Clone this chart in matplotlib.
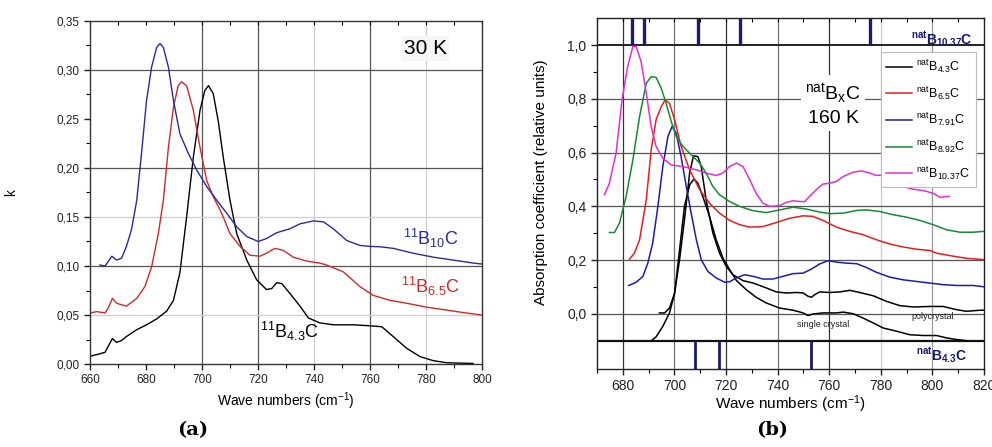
import matplotlib
matplotlib.use("Agg")
import matplotlib.pyplot as plt
from matplotlib.ticker import MultipleLocator, FuncFormatter, FixedLocator

plt.rcParams['font.family'] = ['Liberation Sans', 'DejaVu Sans']
plt.rcParams['mathtext.fontset'] = 'custom'
plt.rcParams['mathtext.rm'] = 'Liberation Sans'
plt.rcParams['mathtext.it'] = 'Liberation Sans:italic'
plt.rcParams['mathtext.bf'] = 'Liberation Sans:bold'

# ---------------- Panel (a) data: k at 30 K ----------------
a_b43_x = [660, 663.6, 665.4, 666.5, 668, 669.5, 671.3, 673, 676.7, 680.2, 683.8, 687.4, 689.8, 692.1,
           694.5, 696.9, 699.3, 701, 702.3, 704, 705.8, 707.6, 710, 712.4, 716, 719.5, 723, 724.9,
           726.7, 728.5, 731.4, 735, 738, 742, 746.9, 754, 760, 764.2, 768.3, 773.1, 777.9, 782.6,
           787.4, 794.5, 796.8]
a_b43_y = [0.0078, 0.0105, 0.012, 0.018, 0.026, 0.022, 0.024, 0.028, 0.035, 0.040, 0.046, 0.054, 0.065, 0.093,
           0.150, 0.211, 0.259, 0.279, 0.284, 0.276, 0.248, 0.211, 0.167, 0.133, 0.106, 0.086, 0.076, 0.077,
           0.083, 0.082, 0.072, 0.059, 0.047, 0.042, 0.040, 0.040, 0.039, 0.038, 0.028, 0.016, 0.0075, 0.0034,
           0.0013, 0.0007, 0.0006]

a_b65_x = [660, 662.4, 665.4, 666.5, 668, 669.5, 673, 676.7, 679.6, 682, 684.4, 686.2, 688, 689.8, 691.5,
           692.7, 694.5, 696.9, 699.3, 701.7, 704, 707, 710, 713.6, 717.1, 720.7, 723, 726, 729, 732.6,
           737.4, 742, 744.5, 750.5, 756.4, 761.2, 767.1, 773.1, 780.2, 787.4, 794.5, 799.9]
a_b65_y = [0.052, 0.0535, 0.052, 0.057, 0.067, 0.062, 0.059, 0.067, 0.079, 0.099, 0.133, 0.167, 0.221, 0.262,
           0.284, 0.288, 0.284, 0.259, 0.221, 0.187, 0.171, 0.154, 0.133, 0.120, 0.111, 0.110, 0.113, 0.118,
           0.116, 0.109, 0.105, 0.103, 0.101, 0.094, 0.079, 0.070, 0.065, 0.062, 0.058, 0.055, 0.052, 0.050]

a_b10_x = [663.5, 665.4, 667.8, 669.5, 671.3, 673, 674.8, 676.7, 678.5, 680.2, 682, 683.8, 685, 686.2,
           688, 689.8, 692.1, 695.1, 698.1, 701.7, 705.3, 708.8, 712.4, 716, 720.1, 723, 726.7, 731.4,
           735, 739.8, 743.4, 746.9, 751.7, 756.4, 760, 763.6, 768.3, 775.5, 782.6, 789.8, 796.9, 799.9]
a_b10_y = [0.101, 0.100, 0.110, 0.106, 0.108, 0.120, 0.137, 0.167, 0.218, 0.269, 0.303, 0.323, 0.327, 0.323,
           0.303, 0.269, 0.235, 0.215, 0.198, 0.181, 0.167, 0.154, 0.140, 0.130, 0.125, 0.128, 0.134, 0.138,
           0.143, 0.146, 0.145, 0.138, 0.126, 0.121, 0.120, 0.1196, 0.118, 0.113, 0.109, 0.106, 0.103, 0.102]

# ---------------- Panel (b) data: natBxC at 160 K ----------------
b_b1037_x = [672.9, 674.8, 677.4, 679.7, 681.9, 683.9, 685.2, 687.1, 689.1, 691, 692.9, 695.5, 698.8, 703.3,
             708.5, 712.3, 716.2, 718.8, 721.4, 724, 726.6, 729.2, 731.7, 734.3, 736.9, 740.8, 743.4, 746,
             748.6, 750.5, 752.4, 755, 757.6, 760.2, 762.8, 765.4, 769.3, 772.5, 775.7, 778.3, 780.9, 784.8,
             788.7, 792.5, 796.4, 800.3, 802.9, 805.5, 806.5]
b_b1037_y = [0.443, 0.486, 0.598, 0.796, 0.920, 0.994, 0.994, 0.938, 0.821, 0.697, 0.623, 0.579, 0.554, 0.548,
             0.536, 0.524, 0.515, 0.524, 0.548, 0.561, 0.548, 0.499, 0.449, 0.412, 0.400, 0.403, 0.415, 0.421,
             0.418, 0.418, 0.437, 0.462, 0.483, 0.486, 0.493, 0.511, 0.527, 0.532, 0.524, 0.515, 0.517, 0.499,
             0.474, 0.464, 0.459, 0.449, 0.434, 0.437, 0.437]

b_b892_x = [674.8, 676.8, 678.7, 681.3, 683.9, 686.5, 689.1, 691, 692.9, 694.9, 696.8, 698.8, 700.7, 703.3,
            705.9, 709.8, 712.3, 714.9, 717.5, 721.4, 725.3, 730.5, 735.6, 740.8, 746, 751.2, 756.3, 760.2,
            765.4, 770.6, 774.4, 779.6, 784.8, 790, 795.1, 800.3, 805.5, 810.7, 815.8, 819.7]
b_b892_y = [0.303, 0.303, 0.338, 0.437, 0.573, 0.734, 0.858, 0.882, 0.880, 0.839, 0.783, 0.715, 0.660, 0.623,
            0.598, 0.561, 0.524, 0.474, 0.443, 0.418, 0.400, 0.384, 0.377, 0.387, 0.397, 0.390, 0.379, 0.373,
            0.375, 0.385, 0.387, 0.381, 0.369, 0.360, 0.348, 0.332, 0.313, 0.304, 0.304, 0.307]

b_b65_x = [682.6, 684.5, 686.5, 689.1, 691, 692.9, 694.9, 696.4, 698.1, 700.1, 702.6, 705.9, 709.8, 713.6,
           717.5, 721.4, 725.3, 729.2, 734.3, 739.5, 744.7, 749.9, 753.7, 757.6, 762.8, 768, 773.1, 778.3,
           783.5, 788.7, 793.8, 799, 801.6, 806.8, 813.2, 820]
b_b65_y = [0.204, 0.226, 0.276, 0.424, 0.610, 0.722, 0.771, 0.796, 0.783, 0.722, 0.623, 0.536, 0.462, 0.412,
           0.375, 0.348, 0.332, 0.323, 0.325, 0.340, 0.356, 0.365, 0.363, 0.348, 0.323, 0.307, 0.295, 0.276,
           0.260, 0.249, 0.241, 0.236, 0.226, 0.217, 0.207, 0.202]

b_b791_x = [682.3, 685.2, 687.8, 689.7, 691.6, 693.6, 695.5, 697.5, 699.1, 700.7, 702.6, 704.6, 706.5, 708.5,
            710.4, 713, 716.2, 719.5, 721.4, 724, 727.2, 730.5, 734.3, 738.2, 742.1, 746, 749.9, 753.1,
            756.3, 759.6, 762.8, 766.7, 770.6, 774.4, 778.3, 783.5, 788.7, 793.8, 799, 804.2, 809.4, 815.8, 820]
b_b791_y = [0.106, 0.118, 0.140, 0.189, 0.264, 0.400, 0.548, 0.660, 0.697, 0.672, 0.585, 0.474, 0.375, 0.276,
            0.202, 0.158, 0.134, 0.118, 0.120, 0.134, 0.146, 0.140, 0.130, 0.130, 0.140, 0.150, 0.152, 0.167,
            0.186, 0.198, 0.193, 0.189, 0.187, 0.173, 0.155, 0.137, 0.127, 0.121, 0.115, 0.109, 0.106, 0.106, 0.101]

b_b43p_x = [694.2, 696.2, 698.1, 700.1, 702, 703.9, 705.9, 707.4, 709.1, 710.4, 712.3, 714.9, 717.5, 720.1,
            722.7, 726.6, 730.5, 735.6, 739.5, 743.4, 747.3, 749.9, 751.8, 753.1, 754.4, 756.3, 760.2, 764.1,
            768, 771.8, 777, 782.2, 787.4, 792.5, 799, 804.2, 809.4, 813.2, 818.4, 820]
b_b43p_y = [0.004, 0.004, 0.022, 0.078, 0.202, 0.350, 0.524, 0.588, 0.585, 0.548, 0.424, 0.301, 0.226, 0.177,
            0.146, 0.124, 0.115, 0.097, 0.082, 0.078, 0.080, 0.078, 0.066, 0.062, 0.072, 0.082, 0.080, 0.082,
            0.088, 0.080, 0.068, 0.047, 0.031, 0.026, 0.028, 0.028, 0.016, 0.010, 0.014, 0.014]

b_b43s_x = [691, 692.9, 695.5, 698.1, 700.1, 702, 703.9, 705.9, 707.6, 709.1, 711, 713.6, 716.2, 718.8,
            721.4, 724, 727.9, 731.7, 735.6, 740.8, 746, 749.9, 751.8, 753.7, 757.6, 762.8, 765.4, 769.3,
            773.1, 777, 780.9, 786.1, 791.2, 796.4, 801.6, 805.5, 809.4, 813.2]
b_b43s_y = [-0.100, -0.085, -0.046, 0.004, 0.078, 0.239, 0.400, 0.480, 0.502, 0.486, 0.437, 0.363, 0.276, 0.208,
            0.165, 0.125, 0.090, 0.062, 0.041, 0.022, 0.014, 0.004, -0.006, 0.000, 0.004, 0.004, 0.007, 0.001,
            -0.015, -0.033, -0.052, -0.064, -0.077, -0.080, -0.080, -0.089, -0.095, -0.099]

# calculated mode positions (cm^-1)
b_modes_b1037 = [683.6, 688.2, 709.0, 725.4, 776.0]
b_modes_b43 = [707.8, 717.2, 753.0]

# ---------------- Figure ----------------
fig = plt.figure(figsize=(9.92, 4.47), dpi=100)
fig.patch.set_facecolor('white')

comma2 = FuncFormatter(lambda v, p: f"{v:.2f}".replace('.', ','))
comma1 = FuncFormatter(lambda v, p: f"{v:.1f}".replace('.', ','))
comma0 = FuncFormatter(lambda v, p: f"{v:.0f}")

DARK = '#555555'
LIGHT = '#cfcfcf'

# ---- Panel (a) ----
axa = fig.add_axes([90/992, 1-364/447, 392/992, 343/447])
axa.set_xlim(660, 800)
axa.set_ylim(0, 0.35)
for xv, c in zip([700, 720, 740, 760, 780], [DARK, DARK, LIGHT, DARK, LIGHT]):
    axa.axvline(xv, color=c, lw=0.9, zorder=0)
for yv, c in zip([0.05, 0.10, 0.15, 0.20, 0.30], [LIGHT, DARK, LIGHT, DARK, DARK]):
    axa.axhline(yv, color=c, lw=0.9, zorder=0)

axa.plot(a_b43_x, a_b43_y, color='black', lw=1.0)
axa.plot(a_b65_x, a_b65_y, color='#cc2a2a', lw=1.0)
axa.plot(a_b10_x, a_b10_y, color='#2a2a99', lw=1.0)

axa.xaxis.set_major_locator(MultipleLocator(20))
axa.xaxis.set_minor_locator(MultipleLocator(10))
axa.yaxis.set_major_locator(MultipleLocator(0.05))
axa.yaxis.set_minor_locator(MultipleLocator(0.025))
axa.xaxis.set_major_formatter(comma0)
axa.yaxis.set_major_formatter(comma2)
axa.tick_params(which='major', direction='out', length=4, width=1, labelsize=8.5, colors='#222222')
axa.tick_params(which='minor', direction='out', length=3, width=0.8)
for s in axa.spines.values():
    s.set_color('#333333'); s.set_linewidth(1.0)
secx = axa.secondary_xaxis('top')
secx.xaxis.set_major_locator(MultipleLocator(10))
secx.tick_params(direction='in', length=3, labeltop=False)
secx.spines['top'].set_visible(False)

axa.set_xlabel('Wave numbers (cm$^{-1}$)', fontsize=10, labelpad=3)
axa.set_ylabel('k', fontsize=10)
axa.yaxis.set_label_coords((18-90)/392, 0.5)
axa.text(0.855, 0.92, '30 K', transform=axa.transAxes, fontsize=15, ha='center', va='center',
         bbox=dict(facecolor='#f6f6f6', edgecolor='none', pad=2))
axa.text(0.87, 0.365, r'$\mathregular{^{11}B_{10}C}$', transform=axa.transAxes, fontsize=13,
         color='#2a2a99', ha='center', va='center')
axa.text(0.87, 0.225, r'$\mathregular{^{11}B_{6.5}C}$', transform=axa.transAxes, fontsize=13,
         color='#cc2a2a', ha='center', va='center')
axa.text(0.51, 0.095, r'$\mathregular{^{11}B_{4.3}C}$', transform=axa.transAxes, fontsize=13,
         color='black', ha='center', va='center')
fig.text(193/992, 1-430/447, '(a)', fontsize=14, fontweight='bold', family='DejaVu Serif',
         ha='center', va='center')

# ---- Panel (b) ----
axb = fig.add_axes([597/992, 1-369/447, 387/992, 351/447])
axb.set_xlim(670, 820)
axb.set_ylim(-0.2045, 1.1004)
vcols = ['#333333', '#777777', '#333333', '#777777', '#333333', '#cccccc', '#999999']
for xv, c in zip([680, 700, 720, 740, 760, 780, 800], vcols):
    axb.axvline(xv, color=c, lw=0.9, zorder=0)
for yv in [0.0, 0.2, 0.4, 0.6, 0.8]:
    axb.axhline(yv, color='#555555', lw=0.9, zorder=0)
axb.axhline(1.0, color='#222222', lw=1.4, zorder=1)
axb.axhline(-0.1, color='#111111', lw=1.6, zorder=1)

axb.vlines(b_modes_b1037, 1.0, 1.1004, color='#1a1a6e', lw=2.4, zorder=2)
axb.vlines(b_modes_b43, -0.2045, -0.1, color='#1a1a6e', lw=2.0, zorder=2)

lw = 1.1
l1, = axb.plot(b_b43p_x, b_b43p_y, color='black', lw=lw, zorder=3)
axb.plot(b_b43s_x, b_b43s_y, color='black', lw=lw, zorder=3)
l2, = axb.plot(b_b65_x, b_b65_y, color='#e02020', lw=lw, zorder=3)
l3, = axb.plot(b_b791_x, b_b791_y, color='#1c1caa', lw=lw, zorder=3)
l4, = axb.plot(b_b892_x, b_b892_y, color='#158a35', lw=lw, zorder=3)
l5, = axb.plot(b_b1037_x, b_b1037_y, color='#e030d0', lw=lw, zorder=3)

axb.xaxis.set_major_locator(MultipleLocator(20))
axb.xaxis.set_minor_locator(MultipleLocator(10))
axb.yaxis.set_major_locator(FixedLocator([0.0, 0.2, 0.4, 0.6, 0.8, 1.0]))
axb.yaxis.set_minor_locator(FixedLocator([0.1, 0.3, 0.5, 0.7, 0.9]))
axb.xaxis.set_major_formatter(comma0)
axb.yaxis.set_major_formatter(comma1)
axb.tick_params(which='major', direction='out', length=4, width=1, labelsize=10, colors='#222222')
axb.tick_params(which='minor', direction='out', length=3, width=0.8)
for s in axb.spines.values():
    s.set_color('#222222'); s.set_linewidth(1.0)
secb = axb.secondary_xaxis('top')
secb.xaxis.set_major_locator(MultipleLocator(10))
secb.tick_params(direction='in', length=3, labeltop=False)
secb.spines['top'].set_visible(False)

axb.set_xlabel('Wave numbers (cm$^{-1}$)', fontsize=11, labelpad=0)
axb.set_ylabel('Absorption coefficient (relative units)', fontsize=11)
axb.yaxis.set_label_coords((548-597)/387, (369-182)/351)

labels = [r'$\mathregular{^{nat}B_{4.3}C}$', r'$\mathregular{^{nat}B_{6.5}C}$',
          r'$\mathregular{^{nat}B_{7.91}C}$', r'$\mathregular{^{nat}B_{8.92}C}$',
          r'$\mathregular{^{nat}B_{10.37}C}$']
leg = axb.legend([l1, l2, l3, l4, l5], labels, loc='upper right', bbox_to_anchor=(0.985, 0.91),
                 fontsize=9, frameon=True, fancybox=False, framealpha=1, edgecolor='#bbbbbb',
                 handlelength=2.1, handletextpad=0.3, borderpad=0.45, borderaxespad=0.2,
                 labelspacing=0.75)
leg.get_frame().set_linewidth(0.8)

axb.text(0.61, 0.755, '$\\mathregular{^{nat}B_xC}$\n160 K', transform=axb.transAxes, fontsize=14,
         ha='center', va='center', linespacing=1.35,
         bbox=dict(facecolor='white', edgecolor='none', pad=3))
axb.text(0.89, 0.94, r'$\mathbf{^{nat}B_{10.37}C}$', transform=axb.transAxes, fontsize=10,
         color='#1a1a6e', ha='center', va='center')
axb.text(0.89, 0.04, r'$\mathbf{^{nat}B_{4.3}C}$', transform=axb.transAxes, fontsize=10,
         color='#1a1a6e', ha='center', va='center')
axb.text(757.5, -0.04, 'single crystal', fontsize=6.5, ha='center', va='center', color='#222222')
axb.text(800, -0.008, 'polycrystal', fontsize=6.5, ha='center', va='center', color='#222222')
fig.text(772/992, 1-430/447, '(b)', fontsize=14, fontweight='bold', family='DejaVu Serif',
         ha='center', va='center')

fig.savefig('out.png', dpi=100, facecolor='white')
